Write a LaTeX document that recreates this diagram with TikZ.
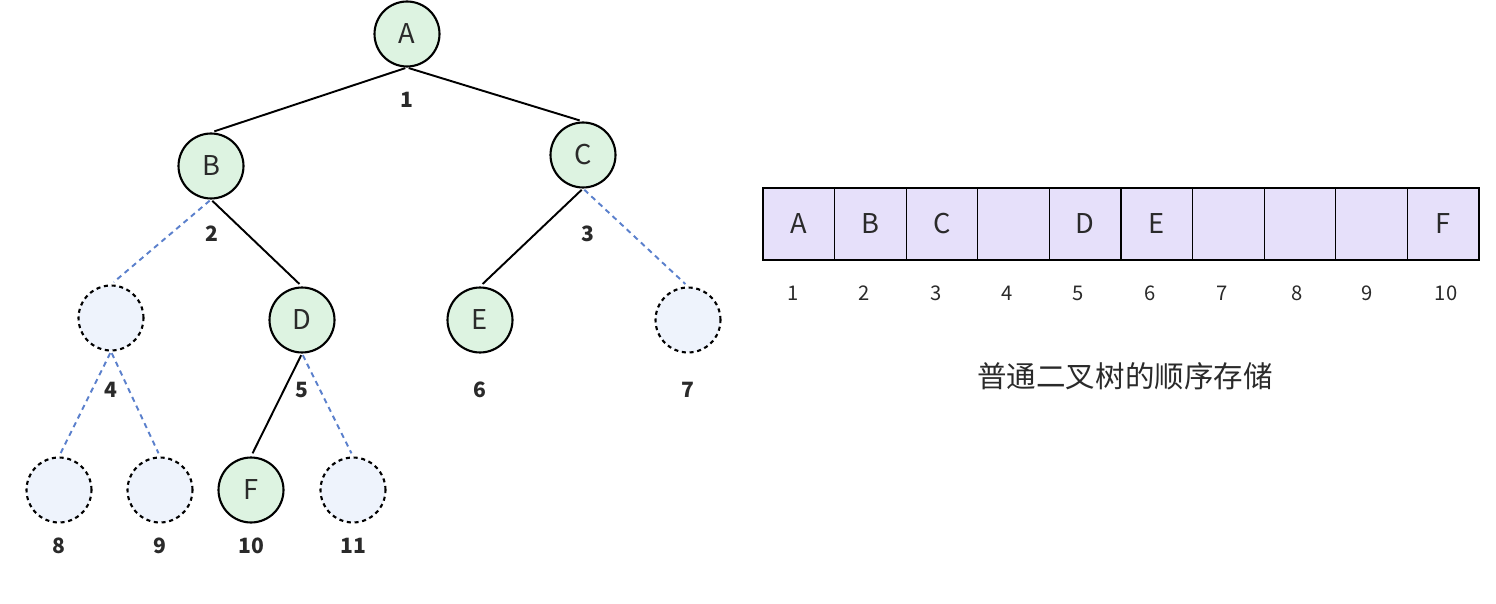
\documentclass[tikz,border=0pt]{standalone}
\usepackage{fontspec}
\setmainfont{Noto Sans CJK SC}
\definecolor{vert}{HTML}{DDF3E1}
\definecolor{videbleu}{HTML}{EEF3FC}
\definecolor{lavande}{HTML}{E6E0FA}
\definecolor{bleu}{HTML}{5B80CC}
\definecolor{texte}{HTML}{2A2A2A}
\begin{document}
\begin{tikzpicture}[x=0.02cm,y=-0.02cm]
% Styles
\tikzstyle{noeud}=[circle,draw=black,line width=1.2pt,fill=vert,minimum size=1.3cm,inner sep=0pt,text=texte,font=\fontsize{15.5}{18}\selectfont]
\tikzstyle{vide}=[noeud,fill=videbleu,dash pattern=on 2.3pt off 2.1pt]
\tikzstyle{arete}=[line width=1.1pt,shorten <=1pt,shorten >=2pt]
\tikzstyle{absent}=[arete,draw=bleu,dash pattern=on 3pt off 2.5pt]
\tikzstyle{rang}=[text=texte,font=\bfseries\fontsize{12}{14}\selectfont]
\tikzstyle{case}=[draw=black,line width=0.7pt,fill=lavande,minimum width=1.432cm,minimum height=1.44cm,inner sep=0pt,text=texte,font=\fontsize{15.5}{18}\selectfont]
\tikzstyle{indice}=[text=texte,font=\fontsize{11.5}{14}\selectfont]
% Cadre
\useasboundingbox (0,0) rectangle (1496,604);
% Arbre : noeuds
\node[noeud] (A) at (407,34) {A};
\node[noeud] (B) at (211,166) {B};
\node[noeud] (C) at (583,155) {C};
\node[vide] (n4) at (111,318) {};
\node[noeud] (D) at (302,320) {D};
\node[noeud] (E) at (480,320) {E};
\node[vide] (n7) at (688,320) {};
\node[vide] (n8) at (59,490) {};
\node[vide] (n9) at (160,490) {};
\node[noeud] (F) at (251,490) {F};
\node[vide] (n11) at (353,490) {};
% Arbre : numeros
\node[rang] (r1) at (407,100) {1};
\node[rang] (r2) at (212,234) {2};
\node[rang] (r3) at (588,234) {3};
\node[rang] (r4) at (111,390) {4};
\node[rang] (r5) at (302,390) {5};
\node[rang] (r6) at (480,390) {6};
\node[rang] (r7) at (688,390) {7};
\node[rang] (r8) at (59,546) {8};
\node[rang] (r9) at (160,546) {9};
\node[rang] (r10) at (251,546) {10};
\node[rang] (r11) at (353,546) {11};
% Arbre : aretes
\draw[arete] (A.south) -- (B.north);
\draw[arete] (A.south) -- (C.north);
\draw[absent] (B.south) -- (n4.north);
\draw[arete] (B.south) -- (D.north);
\draw[arete] (C.south) -- (E.north);
\draw[absent] (C.south) -- (n7.north);
\draw[absent] (n4.south) -- (n8.north);
\draw[absent] (n4.south) -- (n9.north);
\draw[arete] (D.south) -- (F.north);
\draw[absent] (D.south) -- (n11.north);
% Tableau
\foreach \i/\lettre in {1/A,2/B,3/C,4/,5/D,6/E,7/,8/,9/,10/F}
  \node[case] (c\i) at ({763+71.6*(\i-0.5)},224) {\lettre};
\foreach \i/\x in {1/793,2/864,3/936,4/1007,5/1078,6/1150,7/1222,8/1297,9/1367,10/1446}
  \node[indice] (i\i) at (\x,293) {\i};
% Legende
\node[text=texte,font=\fontsize{16.8}{20}\selectfont] (titre) at (1125,376) {普通二叉树的顺序存储};
\end{tikzpicture}
\end{document}
